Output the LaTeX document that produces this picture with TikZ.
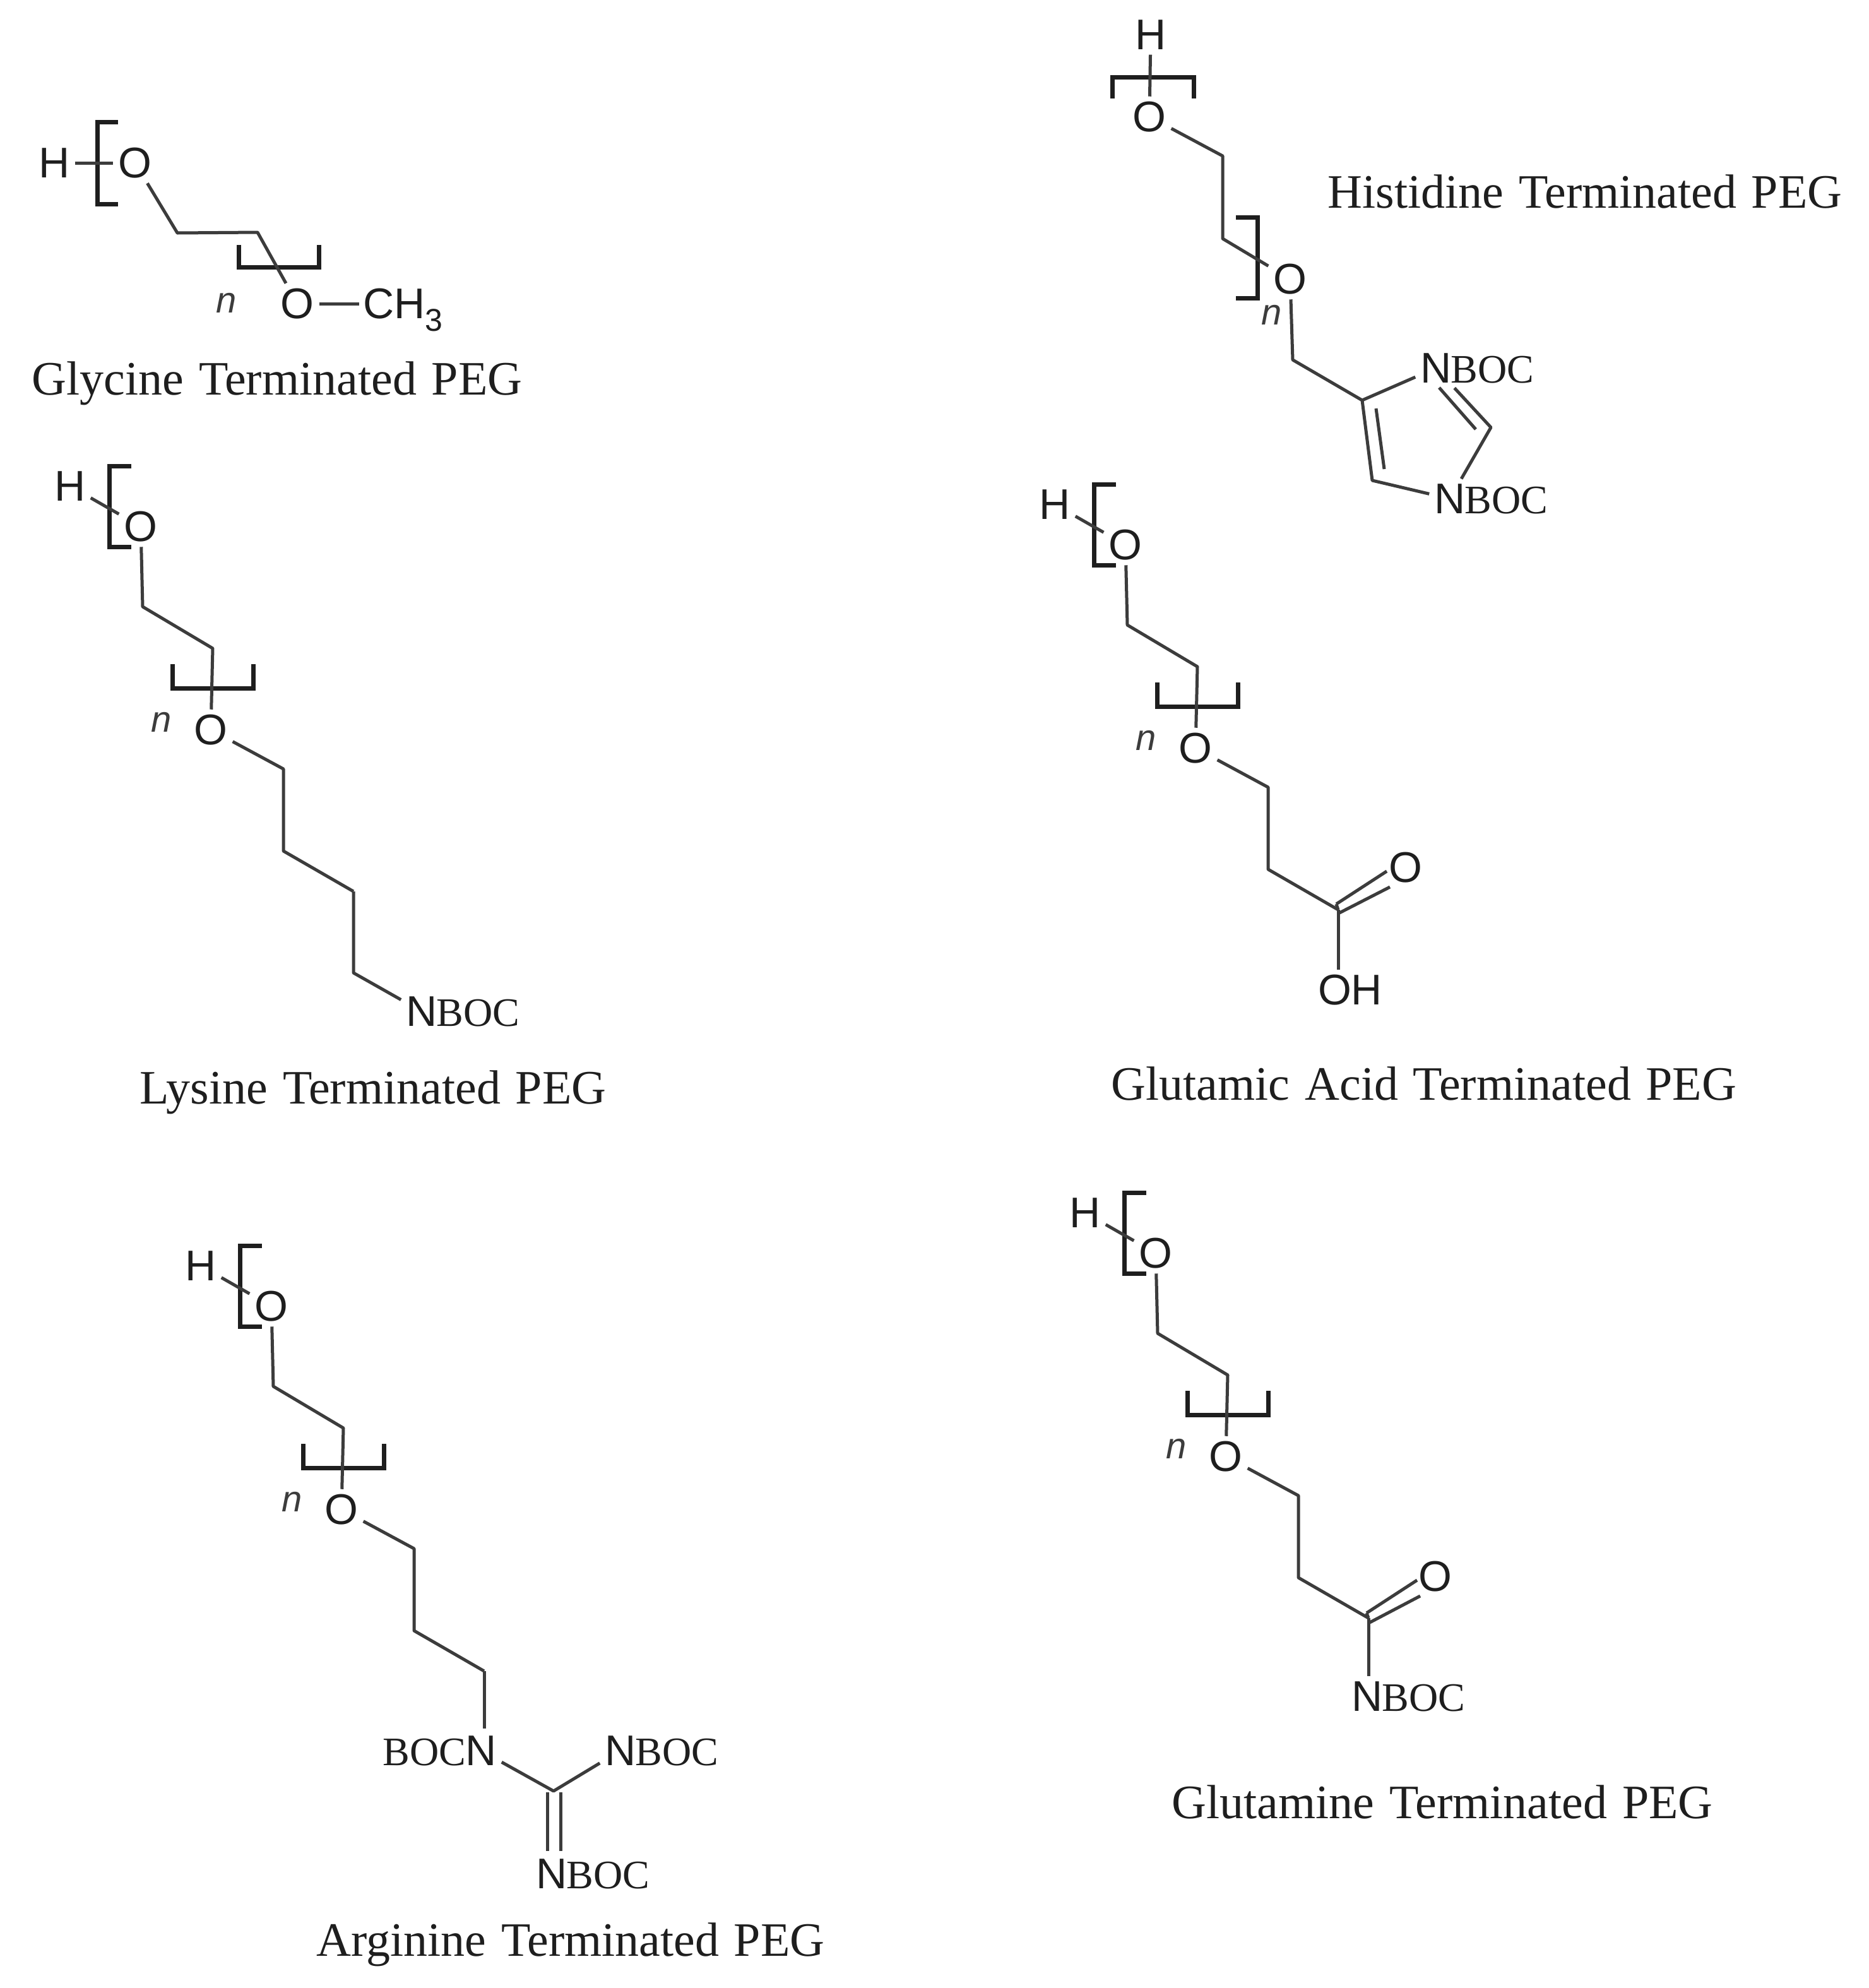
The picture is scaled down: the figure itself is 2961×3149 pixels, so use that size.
\documentclass[tikz,border=0pt]{standalone}
\usepackage{fontspec}
\setmainfont[WordSpace=1.25]{Liberation Serif}
\newfontfamily\chemsans{Liberation Sans}
\newfontfamily\chemserif{Liberation Serif}
\definecolor{inkc}{HTML}{1E1E1E}
\definecolor{bondc}{HTML}{3C3C3C}
\tikzset{
  bond/.style={draw=bondc,line width=5pt,line join=round},
  brack/.style={draw=inkc,line width=7pt,line join=miter},
  atom/.style={inner sep=8pt,text=inkc,font=\chemsans\fontsize{68}{68}\selectfont},
  subn/.style={inner sep=0pt,text=inkc,font=\chemsans\fontsize{50}{50}\selectfont},
  boct/.style={inner sep=0pt,text=inkc,font=\chemserif\fontsize{64}{64}\selectfont},
  nlab/.style={inner sep=0pt,text=bondc,font=\chemsans\itshape\fontsize{58}{58}\selectfont},
  capt/.style={inner sep=0pt,text=inkc,anchor=base,font=\fontsize{76}{76}\selectfont},
}
\newcommand{\nboc}[2]{%
  \node[atom] (#1) at (#2) {N};
  \node[boct,anchor=base west] (#1b) at ([xshift=-9pt]#1.base east) {BOC};
}
\newcommand{\pegmotif}[3]{%
  \begin{scope}[shift={(#2,#3)},name prefix=#1-]
    \node[atom] (H) at (111,770) {H};
    \node[atom] (O1) at (223,834) {O};
    \node[atom] (O2) at (334,1156) {O};
    \node[nlab] (n) at (256,1144) {n};
    \coordinate (c1) at (226,961);
    \coordinate (c2) at (337,1027);
    \coordinate (c3) at (449,1218);
    \coordinate (c4) at (449,1348);
    \coordinate (c5) at (560,1412);
    \coordinate (bla) at (208,738);
    \coordinate (blb) at (173,738);
    \coordinate (blc) at (173,866);
    \coordinate (bld) at (208,866);
    \coordinate (bra) at (273,1052);
    \coordinate (brb) at (273,1090);
    \coordinate (brc) at (401,1090);
    \coordinate (brd) at (401,1052);
    \draw[brack] (bla) -- (blb) -- (blc) -- (bld);
    \draw[brack] (bra) -- (brb) -- (brc) -- (brd);
    \draw[bond] (H) -- (O1);
    \draw[bond] (O1) -- (c1) -- (c2) -- (O2);
    \draw[bond] (O2) -- (c3) -- (c4) -- (c5);
  \end{scope}
}
\begin{document}
\begin{tikzpicture}[x=1pt,y=-1pt]
\useasboundingbox (0,0) rectangle (2961,3149);
\fill[white] (0,0) rectangle (2961,3149);

% Glycine
\node[atom] (gH) at (86,258) {H};
\node[atom] (gO1) at (214,258) {O};
\node[atom] (gO2) at (471,481) {O};
\node[nlab] (gn) at (359,480) {n};
\node[atom,inner sep=0pt,anchor=west] (gCH) at (575,481) {CH};
\node[subn,anchor=base west] (g3) at (gCH.base east |- 0,524) {3};
\coordinate (gc1) at (281,369);
\coordinate (gc2) at (408,368);
\coordinate (gla) at (187,193);
\coordinate (glb) at (154,193);
\coordinate (glc) at (154,323);
\coordinate (gld) at (187,323);
\coordinate (gra) at (378,388);
\coordinate (grb) at (378,423);
\coordinate (grc) at (505,423);
\coordinate (grd) at (505,388);
\draw[brack] (gla) -- (glb) -- (glc) -- (gld);
\draw[brack] (gra) -- (grb) -- (grc) -- (grd);
\draw[bond] (gH) -- (gO1);
\draw[bond] (gO1) -- (gc1) -- (gc2) -- (gO2);
\draw[bond] (gO2) -- ([xshift=-6pt]gCH.west);
\node[capt] (gcap) at (439,625) {Glycine Terminated PEG};

% Histidine
\node[atom] (hH) at (1823,55) {H};
\node[atom] (hO1) at (1821,185) {O};
\node[atom] (hO2) at (2044,442) {O};
\node[nlab] (hn) at (2015,499) {n};
\coordinate (hc1) at (1937,247);
\coordinate (hc2) at (1937,378);
\coordinate (hc3) at (2048,570);
\coordinate (hc4) at (2158,634);
\coordinate (hc5) at (2174,761);
\coordinate (hc6) at (2362,677);
\coordinate (hdb1a) at (2180,647);
\coordinate (hdb1b) at (2193,743);
\coordinate (hdb2a) at (2280,614);
\coordinate (hdb2b) at (2338,680);
\nboc{hN1}{2275,583}
\nboc{hN2}{2297,790}
\coordinate (hla) at (1762,156);
\coordinate (hlb) at (1762,122);
\coordinate (hlc) at (1891,122);
\coordinate (hld) at (1891,156);
\coordinate (hra) at (1958,344);
\coordinate (hrb) at (1992,344);
\coordinate (hrc) at (1992,472);
\coordinate (hrd) at (1958,472);
\draw[brack] (hla) -- (hlb) -- (hlc) -- (hld);
\draw[brack] (hra) -- (hrb) -- (hrc) -- (hrd);
\draw[bond] (hH) -- (hO1);
\draw[bond] (hO1) -- (hc1) -- (hc2) -- (hO2);
\draw[bond] (hO2) -- (hc3) -- (hc4) -- (hN1);
\draw[bond] (hc4) -- (hc5) -- (hN2);
\draw[bond] (hN1) -- (hc6) -- (hN2);
\draw[bond] (hdb1a) -- (hdb1b);
\draw[bond] (hdb2a) -- (hdb2b);
\node[capt] (hcap) at (2511,329) {Histidine Terminated PEG};

% Lysine
\pegmotif{lys}{0}{0}
\coordinate (lysc6) at (560,1541);
\nboc{lysN}{668,1602}
\draw[bond] (lys-c5) -- (lysc6) -- (lysN);
\node[capt] (lcap) at (591,1748) {Lysine Terminated PEG};

% Glutamic acid
\pegmotif{glu}{1560}{29}
\node[atom] (gluO3) at (2227,1374) {O};
\node[atom] (gluOH) at (2139,1568) {OH};
\coordinate (gluda) at (2117,1432);
\coordinate (gludb) at (2197,1380);
\coordinate (gludc) at (2122,1446);
\coordinate (gludd) at (2202,1405);
\draw[bond] (glu-c5) -- (gluda);
\draw[bond] (gluda) -- (gludb);
\draw[bond] (gludc) -- (gludd);
\draw[bond] (glu-c5) -- (gluOH.north -| glu-c5);
\node[capt] (ecap) at (2256,1742) {Glutamic Acid Terminated PEG};

% Glutamine
\pegmotif{gln}{1608}{1151}
\node[atom] (glnO3) at (2274,2497) {O};
\nboc{glnN}{2166,2687}
\coordinate (glnda) at (2165,2555);
\coordinate (glndb) at (2245,2503);
\coordinate (glndc) at (2170,2570);
\coordinate (glndd) at (2250,2528);
\draw[bond] (gln-c5) -- (glnda);
\draw[bond] (glnda) -- (glndb);
\draw[bond] (glndc) -- (glndd);
\draw[bond] (gln-c5) -- (glnN.north -| gln-c5);
\node[capt] (qcap) at (2285,2880) {Glutamine Terminated PEG};

% Arginine
\pegmotif{arg}{207}{1235}
\node[atom] (argN1) at (762,2773) {N};
\node[boct,anchor=base east] (argB1) at ([xshift=9pt]argN1.base west) {BOC};
\nboc{argN2}{983,2773}
\nboc{argN3}{874,2968}
\coordinate (argC) at (877,2837);
\coordinate (argda) at (867,2839);
\coordinate (argdb) at (867,2932);
\coordinate (argdc) at (888,2839);
\coordinate (argdd) at (888,2932);
\coordinate (argtop) at (767,2738);
\draw[bond] (arg-c5) -- (argtop);
\draw[bond] (argN1) -- (argC) -- (argN2);
\draw[bond] (argda) -- (argdb);
\draw[bond] (argdc) -- (argdd);
\node[capt] (acap) at (904,3098) {Arginine Terminated PEG};
\end{tikzpicture}
\end{document}
